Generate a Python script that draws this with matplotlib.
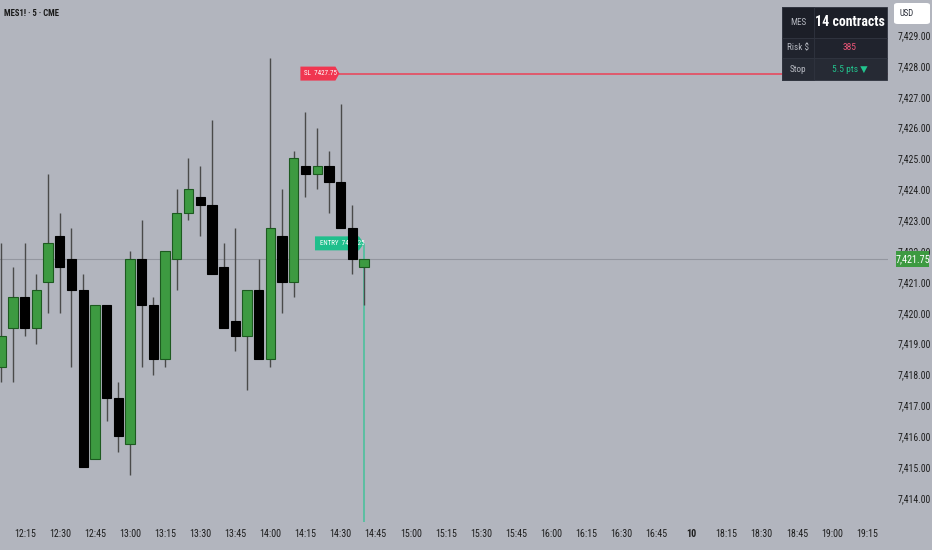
import matplotlib
matplotlib.use("Agg")
import matplotlib.pyplot as plt
from matplotlib import font_manager
from matplotlib.patches import Polygon, Rectangle, FancyBboxPatch

# pick a narrow face when one is installed, else Liberation Sans a bit smaller
names = {f.name for f in font_manager.fontManager.ttflist}
narrow = [n for n in ['Liberation Sans Narrow', 'Roboto Condensed', 'DejaVu Sans Condensed']
          if n in names]
if narrow:
    FONT, S = narrow[0], 1.0
else:
    FONT, S = 'Liberation Sans', 0.84
plt.rcParams['font.family'] = [FONT, 'DejaVu Sans']

# 5 minute bars, MES1!
times = ["12:05", "12:10", "12:15", "12:20", "12:25", "12:30", "12:35", "12:40",
         "12:45", "12:50", "12:55", "13:00", "13:05", "13:10", "13:15", "13:20",
         "13:25", "13:30", "13:35", "13:40", "13:45", "13:50", "13:55", "14:00",
         "14:05", "14:10", "14:15", "14:20", "14:25", "14:30", "14:35", "14:40"]
opens = [7418.25, 7419.50, 7420.50, 7419.50, 7421.00, 7422.50, 7421.75, 7420.75,
         7415.25, 7420.25, 7417.25, 7415.75, 7421.75, 7420.25, 7418.50, 7421.75,
         7423.25, 7423.75, 7423.50, 7421.50, 7419.75, 7419.25, 7420.75, 7418.50,
         7422.50, 7421.00, 7424.75, 7424.50, 7424.75, 7424.25, 7422.75, 7421.50]
highs = [7422.25, 7421.50, 7422.25, 7421.25, 7424.50, 7423.25, 7422.75, 7421.25,
         7420.25, 7420.25, 7417.75, 7422.00, 7423.00, 7420.50, 7422.00, 7424.00,
         7425.00, 7424.75, 7426.25, 7422.25, 7422.75, 7420.75, 7421.75, 7428.25,
         7424.00, 7425.25, 7426.50, 7426.00, 7425.25, 7426.75, 7423.50, 7421.75]
lows = [7417.75, 7417.75, 7419.25, 7419.00, 7420.00, 7420.00, 7418.25, 7415.00,
        7415.25, 7416.50, 7415.50, 7414.75, 7418.25, 7418.00, 7418.25, 7420.75,
        7423.00, 7422.50, 7421.25, 7419.50, 7418.75, 7417.50, 7418.50, 7418.25,
        7420.00, 7420.50, 7423.75, 7424.00, 7423.25, 7422.75, 7421.25, 7420.25]
closes = [7419.25, 7420.50, 7419.50, 7420.75, 7422.25, 7421.50, 7420.75, 7415.00,
          7420.25, 7417.25, 7416.00, 7421.75, 7420.25, 7418.50, 7422.00, 7423.25,
          7424.00, 7423.50, 7421.25, 7419.50, 7419.25, 7420.75, 7418.50, 7422.75,
          7421.00, 7425.00, 7424.50, 7424.75, 7424.25, 7422.75, 7421.75, 7421.75]

# time axis labels, one every 3 bars starting at 12:15
xtick_labels = ["12:15", "12:30", "12:45", "13:00", "13:15", "13:30", "13:45",
                "14:00", "14:15", "14:30", "14:45", "15:00", "15:15", "15:30",
                "15:45", "16:00", "16:15", "16:30", "16:45", "10", "18:15",
                "18:30", "18:45", "19:00", "19:15"]
price_ticks = list(range(7414, 7430))

sl_price = 7427.75
entry_price = 7422.25
last_price = closes[-1]
table_rows = [("MES", "14 contracts"), ("Risk $", "385"), ("Stop", "5.5 pts \u25bc")]

BG = '#b2b5be'
GREEN = '#3d9a41'
W, H = 932, 550

fig = plt.figure(figsize=(W / 100, H / 100), dpi=100, facecolor=BG)
ax = fig.add_axes([0, 28 / H, 888 / W, 522 / H])
ax.set_facecolor(BG)
for s in ax.spines.values():
    s.set_visible(False)

idx = list(range(len(times)))
XMAX = 75.79
YMIN = 7413.224
ax.set_xlim(-0.111, XMAX)
ax.set_ylim(YMIN, 7430.134)

# wicks and bodies
ax.vlines(idx, lows, highs, color='#4a4a4a', lw=1, zorder=3)
up = [c >= o for o, c in zip(opens, closes)]
face = [GREEN if u else '#000000' for u in up]
edge = ['#1d5a20' if u else '#000000' for u in up]
bottoms = [min(o, c) for o, c in zip(opens, closes)]
heights = [abs(c - o) for o, c in zip(opens, closes)]
ax.bar(idx, heights, bottom=bottoms, width=0.8, color=face, edgecolor=edge,
       linewidth=0.8, zorder=4)

# last price line
ax.axhline(last_price, color='#93969f', lw=0.8, zorder=1)

# SL line and entry line
sl_x = 28.9
ax.hlines(sl_price, sl_x, XMAX, color='#e84a5f', lw=1.2, zorder=2)
entry_x = len(times) - 1
ax.vlines(entry_x, YMIN, entry_price, color='#4cc09d', lw=1.2, zorder=2)

# SL tag
px, py = ax.transData.transform((sl_x, sl_price))
pts = [(px - 39, py - 7), (px - 4, py - 7), (px, py), (px - 4, py + 7), (px - 39, py + 7)]
fig.add_artist(Polygon(pts, closed=True, transform=None, facecolor='#f03650',
                       edgecolor='none', zorder=6))
fig.text(0, 0, "SL  7427.75", transform=None, color='white', fontsize=5.0 * S,
         ha='left', va='center', zorder=6.1).set_position((px - 35, py))

# entry tag lies under the candles
px, py = ax.transData.transform((entry_x, entry_price))
pts = [(px - 49, py - 7), (px - 5, py - 7), (px, py), (px - 5, py + 7), (px - 49, py + 7)]
ax.add_patch(Polygon(pts, closed=True, transform=None, facecolor='#1fbf8c',
                     edgecolor='none', zorder=2.5))
ax.text(px - 44, py, "ENTRY  7422.25", transform=None, color='white', fontsize=5.0 * S,
        ha='left', va='center', zorder=2.6)

# right price axis
ax.yaxis.tick_right()
ax.set_yticks(price_ticks)
ax.set_yticklabels([f"{p:,.2f}" for p in price_ticks])
ax.tick_params(axis='y', length=0, pad=7, labelsize=7.0 * S, labelcolor='#1e1e1e')

ax.set_xticks(range(2, 2 + 3 * len(xtick_labels), 3))
ax.set_xticklabels(xtick_labels)
ax.tick_params(axis='x', length=0, pad=5, labelsize=7.2 * S, labelcolor='#1e1e1e')
for lab in ax.get_xticklabels():
    if lab.get_text() == "10":
        lab.set_fontweight('bold')

# current price box
px, py = ax.transData.transform((0, last_price))
fig.add_artist(Rectangle((896, py - 8), 33, 16, transform=None, facecolor=GREEN,
                         edgecolor='none', zorder=10))
fig.text(0, 0, f"{last_price:,.2f}", transform=None, color='white', fontsize=7.3 * S,
         ha='center', va='center', zorder=11).set_position((912.5, py))


def fx(x):
    return x / W


def fy(y):
    return 1 - y / H


# title
fig.text(fx(4), fy(13), "MES1! \u00b7 5 \u00b7 CME", fontsize=6.2 * S, fontweight='bold',
         color='#1a1a1a', ha='left', va='center')

# USD box
fig.add_artist(FancyBboxPatch((fx(894), fy(24)), fx(36), 21 / H,
                              boxstyle='round,pad=0,rounding_size=0.004',
                              transform=fig.transFigure, facecolor='white',
                              edgecolor='none', zorder=5))
fig.text(fx(899), fy(13.5), "USD", fontsize=6.2 * S, color='#2a2e39', ha='left',
         va='center', zorder=6)

# info table
row_y = [(7, 38), (38, 58), (58, 80)]
row_bg = ['#1c1f28', '#20232d', '#262a34']
val_col = ['white', '#f2577a', '#22c48e']
for k, ((y0, y1), (name, val)) in enumerate(zip(row_y, table_rows)):
    fig.add_artist(Rectangle((fx(782), fy(y1)), fx(105), (y1 - y0) / H,
                             transform=fig.transFigure, facecolor=row_bg[k],
                             edgecolor='#30343f', lw=0.6, zorder=7))
    fig.add_artist(Rectangle((fx(782), fy(y1)), fx(32), (y1 - y0) / H,
                             transform=fig.transFigure, facecolor='none',
                             edgecolor='#30343f', lw=0.6, zorder=7.5))
    cy = (y0 + y1) / 2
    fig.text(fx(798), fy(cy), name, fontsize=6.6 * S, color='#b5b8c0', ha='center',
             va='center', zorder=8)
    if k == 0:
        fig.text(fx(850), fy(cy), val, fontsize=10 * S, color=val_col[k], ha='center',
                 va='center', fontweight='bold', zorder=8)
    else:
        fig.text(fx(850), fy(cy), val, fontsize=6.8 * S, color=val_col[k], ha='center',
                 va='center', zorder=8)

fig.savefig("out.png", dpi=100, facecolor=BG)
